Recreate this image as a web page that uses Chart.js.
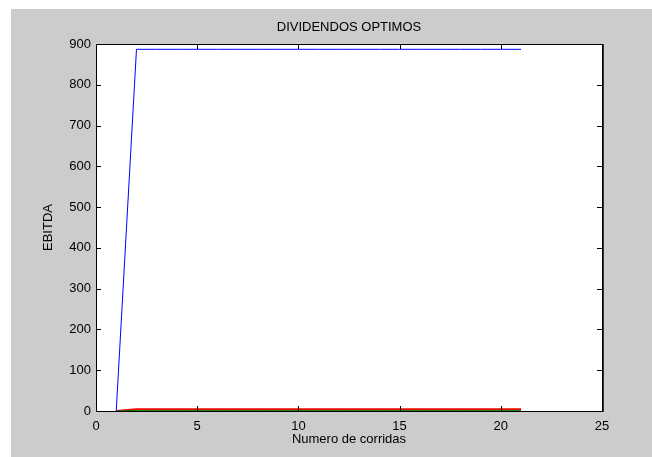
<!DOCTYPE html>
<html>
<head>
<meta charset="utf-8">
<title>DIVIDENDOS OPTIMOS</title>
<script src="https://cdn.jsdelivr.net/npm/chart.js@4/dist/chart.umd.min.js"></script>
<style>
  html, body { margin: 0; padding: 0; background: #ffffff; }
  #wrap { width: 652px; height: 457px; }
</style>
</head>
<body>
<div id="wrap"><canvas id="c" width="652" height="457"></canvas></div>
<script>
// Run numbers (x axis) and the three series per run
const runs = [1, 2, 3, 4, 5, 6, 7, 8, 9, 10, 11, 12, 13, 14, 15, 16, 17, 18, 19, 20, 21];
const serieAzul = [0, 887, 887, 887, 887, 887, 887, 887, 887, 887, 887, 887, 887, 887, 887, 887, 887, 887, 887, 887, 887];
const serieVerde = [0, 1.5, 1.5, 1.5, 1.5, 1.5, 1.5, 1.5, 1.5, 1.5, 1.5, 1.5, 1.5, 1.5, 1.5, 1.5, 1.5, 1.5, 1.5, 1.5, 1.5];
const serieRoja = [0, 4.5, 4.5, 4.5, 4.5, 4.5, 4.5, 4.5, 4.5, 4.5, 4.5, 4.5, 4.5, 4.5, 4.5, 4.5, 4.5, 4.5, 4.5, 4.5, 4.5];
const xTicks = [0, 5, 10, 15, 20, 25];
const yTicks = [0, 100, 200, 300, 400, 500, 600, 700, 800, 900];
const titulo = 'DIVIDENDOS OPTIMOS';

const toPoints = (vals) => runs.map((r, i) => ({ x: r, y: vals[i] }));

const FONT = "'Liberation Sans', Arial, Helvetica, sans-serif";

// Grey figure background, white axes box, black frame, inward ticks and a title centred on the axes
const axesFrame = {
  id: 'axesFrame',
  beforeDraw(chart) {
    const { ctx, chartArea: a } = chart;
    ctx.save();
    ctx.fillStyle = '#ffffff';
    ctx.fillRect(0, 0, chart.width, chart.height);
    ctx.fillStyle = '#cccccc';
    ctx.fillRect(11, 9, chart.width - 11, chart.height - 9);
    ctx.fillStyle = '#ffffff';
    ctx.fillRect(a.left, a.top, a.right - a.left, a.bottom - a.top);
    ctx.restore();
  },
  afterDatasetsDraw(chart) {
    const { ctx, chartArea: a, scales } = chart;
    const L = 5;
    ctx.save();
    ctx.strokeStyle = '#000000';
    ctx.lineWidth = 1;
    ctx.beginPath();
    xTicks.forEach(v => {
      const px = Math.round(scales.x.getPixelForValue(v)) + 0.5;
      ctx.moveTo(px, a.bottom); ctx.lineTo(px, a.bottom - L);
      ctx.moveTo(px, a.top); ctx.lineTo(px, a.top + L);
    });
    yTicks.forEach(v => {
      const py = Math.round(scales.y.getPixelForValue(v)) + 0.5;
      ctx.moveTo(a.left, py); ctx.lineTo(a.left + L, py);
      ctx.moveTo(a.right, py); ctx.lineTo(a.right - L, py);
    });
    ctx.stroke();
    ctx.strokeRect(Math.round(a.left) + 0.5, Math.round(a.top) + 0.5,
                   Math.round(a.right - a.left), Math.round(a.bottom - a.top));
    ctx.strokeStyle = '#333333';
    ctx.beginPath();
    ctx.moveTo(Math.round(a.right) + 1.5, Math.round(a.top));
    ctx.lineTo(Math.round(a.right) + 1.5, Math.round(a.bottom) + 1);
    ctx.stroke();

    ctx.fillStyle = '#000000';
    ctx.font = '13px ' + FONT;
    ctx.textAlign = 'center';
    ctx.textBaseline = 'middle';
    ctx.fillText(titulo, (a.left + a.right) / 2, 27);
    ctx.restore();
  }
};

new Chart(document.getElementById('c'), {
  type: 'line',
  data: {
    datasets: [
      { data: toPoints(serieAzul), borderColor: '#0000ff', borderWidth: 1, pointRadius: 0, tension: 0, fill: false },
      { data: toPoints(serieVerde), borderColor: '#008000', borderWidth: 1, pointRadius: 0, tension: 0, fill: false },
      { data: toPoints(serieRoja), borderColor: '#ff0000', borderWidth: 2, pointRadius: 0, tension: 0, fill: false }
    ]
  },
  options: {
    responsive: false,
    animation: false,
    events: [],
    layout: { padding: { left: 0, top: 44, right: 50, bottom: 0 } },
    plugins: {
      legend: { display: false },
      tooltip: { enabled: false },
      title: { display: false }
    },
    scales: {
      x: {
        type: 'linear',
        min: 0, max: 25,
        afterBuildTicks(scale) { scale.ticks = xTicks.map(v => ({ value: v })); },
        afterFit(scale) { scale.height = 46; },
        grid: { display: false, drawTicks: false },
        border: { display: false },
        ticks: { color: '#000000', font: { family: FONT, size: 13 }, padding: 8, maxRotation: 0 },
        title: {
          display: true,
          text: 'Numero de corridas',
          color: '#000000',
          font: { family: FONT, size: 13 },
          padding: { top: 0, bottom: 10 }
        }
      },
      y: {
        type: 'linear',
        min: 0, max: 900,
        afterBuildTicks(scale) { scale.ticks = yTicks.map(v => ({ value: v })); },
        afterFit(scale) { scale.width = 96; },
        grid: { display: false, drawTicks: false },
        border: { display: false },
        ticks: { color: '#000000', font: { family: FONT, size: 13 }, padding: 5 },
        title: {
          display: true,
          text: 'EBITDA',
          color: '#000000',
          font: { family: FONT, size: 13 },
          padding: { top: 41, bottom: 0 }
        }
      }
    }
  },
  plugins: [axesFrame]
});
</script>
</body>
</html>
